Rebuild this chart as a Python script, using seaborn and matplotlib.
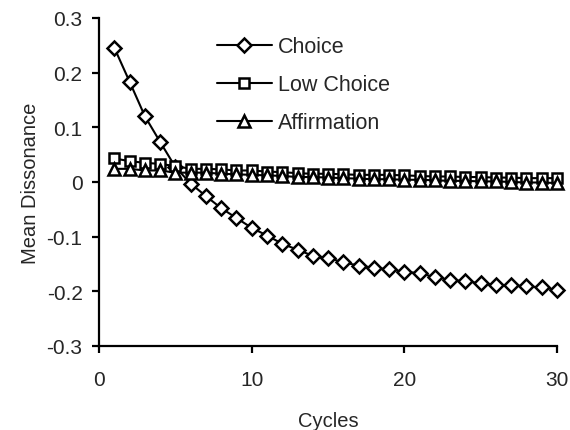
# -*- coding: utf-8 -*-
import pandas as pd
import numpy as np
import matplotlib
matplotlib.use('Agg')
import matplotlib.pyplot as plt
import seaborn as sns

# ---------------------------------------------------------------------------------------
## 0. Data

cycles = list(range(1, 31))

choice = [0.245, 0.183, 0.120, 0.073, 0.027, -0.003, -0.026, -0.048, -0.066, -0.084,
          -0.098, -0.113, -0.124, -0.135, -0.139, -0.147, -0.153, -0.157, -0.160, -0.164,
          -0.167, -0.174, -0.179, -0.182, -0.185, -0.188, -0.189, -0.191, -0.193, -0.197]

low_choice = [0.043, 0.038, 0.035, 0.033, 0.029, 0.024, 0.024, 0.023, 0.021, 0.021,
              0.019, 0.018, 0.016, 0.015, 0.015, 0.014, 0.013, 0.013, 0.013, 0.012,
              0.011, 0.010, 0.010, 0.009, 0.009, 0.008, 0.008, 0.007, 0.007, 0.007]

affirmation = [0.024, 0.024, 0.021, 0.021, 0.017, 0.017, 0.017, 0.015, 0.014, 0.013,
               0.012, 0.011, 0.009, 0.009, 0.008, 0.007, 0.006, 0.005, 0.005, 0.004,
               0.004, 0.003, 0.002, 0.002, 0.001, 0.001, 0.000, -0.001, -0.001, -0.002]

series_names = ['Choice', 'Low Choice', 'Affirmation']
y_ticks = [-0.3, -0.2, -0.1, 0, 0.1, 0.2, 0.3]
y_tick_labels = ['-0.3', '-0.2', '-0.1', '0', '0.1', '0.2', '0.3']
x_ticks = [0, 10, 20, 30]

df = pd.DataFrame({
    'Cycles': cycles * 3,
    'Mean Dissonance': choice + low_choice + affirmation,
    'Condition': np.repeat(series_names, len(cycles)),
})

# ---------------------------------------------------------------------------------------
## 1. Plot

sns.set_style('ticks')
plt.rcParams['font.family'] = ['Liberation Sans', 'DejaVu Sans']
plt.rcParams['axes.unicode_minus'] = False

fig = plt.figure(figsize=(5.7, 4.31), dpi=100)
ax = fig.add_axes([0.174, 0.195, 0.803, 0.761])

marker_styles = {'Choice': ('D', 6.8), 'Low Choice': ('s', 7.5), 'Affirmation': ('^', 8.8)}

for name in series_names:
    marker, size = marker_styles[name]
    sns.lineplot(data=df[df['Condition'] == name], x='Cycles', y='Mean Dissonance',
                 ax=ax, color='black', linewidth=1.5, marker=marker, markersize=size,
                 markerfacecolor='white', markeredgecolor='black', markeredgewidth=1.8,
                 label=name, clip_on=False)

ax.set_xlim(0, 30)
ax.set_ylim(-0.3, 0.3)
ax.set_xticks(x_ticks)
ax.set_yticks(y_ticks)
ax.set_yticklabels(y_tick_labels)
ax.tick_params(axis='both', labelsize=15, width=1.6, length=5, color='black')
ax.tick_params(axis='x', pad=12)
ax.tick_params(axis='y', pad=7)
for side in ['left', 'bottom']:
    ax.spines[side].set_linewidth(1.6)
    ax.spines[side].set_color('black')
sns.despine(ax=ax)

ax.set_xlabel('Cycles', fontsize=14.5, labelpad=16)
ax.set_ylabel('Mean Dissonance', fontsize=14.5, labelpad=5)

ax.legend(loc='upper left', bbox_to_anchor=(0.257, 0.944), frameon=False, fontsize=15.5,
          handlelength=2.57, handletextpad=0.27, labelspacing=0.79, borderpad=0,
          borderaxespad=0, numpoints=1)

fig.savefig('out.png', dpi=100)
